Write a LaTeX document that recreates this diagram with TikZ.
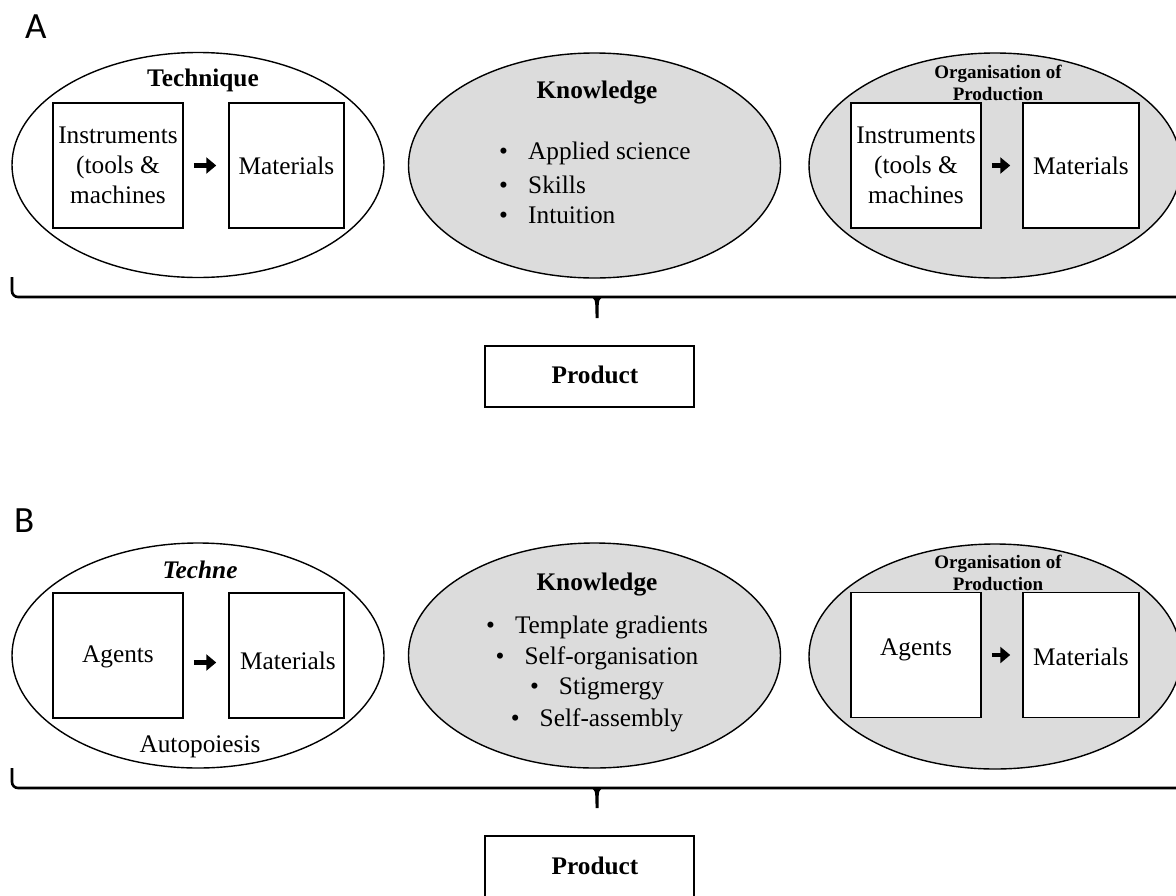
\documentclass[tikz,border=0pt]{standalone}
\usepackage{fontspec}
\setmainfont{Liberation Serif}
\newfontfamily\panelfont{Carlito}
\usetikzlibrary{shapes.geometric,arrows.meta}
\definecolor{ovalgray}{RGB}{220,220,220}
\newcommand\mybody{\fontsize{25.3}{30}\selectfont}
\newcommand\myorg{\fontsize{19}{22}\selectfont\bfseries}
\begin{document}
\begin{tikzpicture}[x=1pt,y=-1pt,
  oval/.style={ellipse, draw, line width=1.4pt, minimum width=372pt, minimum height=225pt, inner sep=0pt},
  grayoval/.style={oval, fill=ovalgray},
  whiteoval/.style={oval, fill=white},
  boxnode/.style={draw, line width=1.5pt, fill=white, inner sep=0pt, align=center, font=\mybody, minimum height=125pt},
  widebox/.style={boxnode, minimum width=130pt},
  narrowbox/.style={boxnode, minimum width=115pt},
  prodbox/.style={draw, line width=1.5pt, fill=white, inner sep=0pt, minimum width=209pt, minimum height=61pt},
  txt/.style={font=\mybody, inner sep=0pt},
  boldtxt/.style={font=\mybody\bfseries, inner sep=0pt},
  orgtxt/.style={font=\myorg, align=center, inner sep=0pt},
  panel/.style={font=\panelfont\fontsize{37}{40}\selectfont, anchor=base west, inner sep=0pt},
  conn/.style={line width=4.2pt, -{Triangle[length=10pt,width=16pt]}, shorten <=10pt, shorten >=12pt},
  bracepath/.style={line width=2.6pt, rounded corners=6pt},
  bulletline/.style={txt, anchor=west}
]
\useasboundingbox (0,0) rectangle (1176,895);
\clip (0,0) rectangle (1176,895);

% ---------------- Panel A ----------------
\node[panel] (labA) at (25,38) {A};

\node[whiteoval] (techA) at (198,165) {};
\node[grayoval] (knowA) at (594.5,165.5) {};
\node[grayoval] (orgA) at (995,165.5) {};

\node[boldtxt] (techAtitle) at (203,80) {Technique};
\node[widebox] (instA) at (118,165.5) {Instruments\\(tools \&\\machines};
\node[narrowbox] (matA) at (286.5,165.5) {Materials};
\draw[conn] (instA) -- (matA);

\node[boldtxt] (knowAtitle) at (597,93) {Knowledge};
\node[bulletline] (ka1) at (499,153) {\makebox[29pt][l]{•}Applied science};
\node[bulletline] (ka2) at (499,185) {\makebox[29pt][l]{•}Skills};
\node[bulletline] (ka3) at (499,215) {\makebox[29pt][l]{•}Intuition};

\node[widebox] (instA2) at (916,165.5) {Instruments\\(tools \&\\machines};
\node[narrowbox, minimum width=116pt] (matA2) at (1081,165.5) {Materials};
\draw[conn] (instA2) -- (matA2);
\node[orgtxt] (orgAtitle) at (998,83) {Organisation of\\Production};

% brace A
\coordinate (bAl) at (12,277);
\coordinate (bAr) at (1190,297);
\coordinate (bAtip) at (597,318);
\draw[bracepath] (bAl) |- (bAr);
\fill (588,296) .. controls (595.5,298) .. (595.5,318) -- (598.5,318) .. controls (598.5,298) .. (606,296) -- cycle;

\node[prodbox] (prodA) at (589.5,376.5) {};
\node[boldtxt] (prodAt) at (595,375) {Product};

% ---------------- Panel B ----------------
\node[panel] (labB) at (14,532) {B};

\node[whiteoval] (techB) at (198,655.5) {};
\node[grayoval] (knowB) at (594.5,655.5) {};
\node[grayoval] (orgB) at (995,656.5) {};

\node[boldtxt, font=\mybody\bfseries\itshape] (techBtitle) at (200,570) {Techne};
\node[widebox] (agB) at (118,655.5) {};
\node[txt] (agBt) at (118,657) {Agents};
\node[narrowbox] (matB) at (286.5,655.5) {};
\node[txt] (matBt) at (288,661) {Materials};
\draw[conn] ([yshift=-7pt]agB.east) -- ([yshift=-7pt]matB.west);
\node[txt] (autop) at (200,747) {Autopoiesis};

\node[boldtxt] (knowBtitle) at (597,585) {Knowledge};
\node[txt] (kb1) at (597,627) {•\hspace{20pt}Template gradients};
\node[txt] (kb2) at (597,658) {•\hspace{20pt}Self-organisation};
\node[txt] (kb3) at (597,689) {•\hspace{20pt}Stigmergy};
\node[txt] (kb4) at (597,720) {•\hspace{20pt}Self-assembly};

\node[widebox] (agB2) at (916,655) {};
\node[txt] (agB2t) at (916,650) {Agents};
\node[narrowbox, minimum width=116pt] (matB2) at (1081,655) {};
\node[txt] (matB2t) at (1081,657) {Materials};
\draw[conn] (agB2) -- (matB2);
\node[orgtxt] (orgBtitle) at (998,573) {Organisation of\\Production};

% brace B
\coordinate (bBl) at (12,768);
\coordinate (bBr) at (1190,788);
\draw[bracepath] (bBl) |- (bBr);
\fill (588,787) .. controls (595.5,789) .. (595.5,808) -- (598.5,808) .. controls (598.5,789) .. (606,787) -- cycle;

\node[prodbox] (prodB) at (589.5,866.5) {};
\node[boldtxt] (prodBt) at (595,866) {Product};
\end{tikzpicture}
\end{document}
